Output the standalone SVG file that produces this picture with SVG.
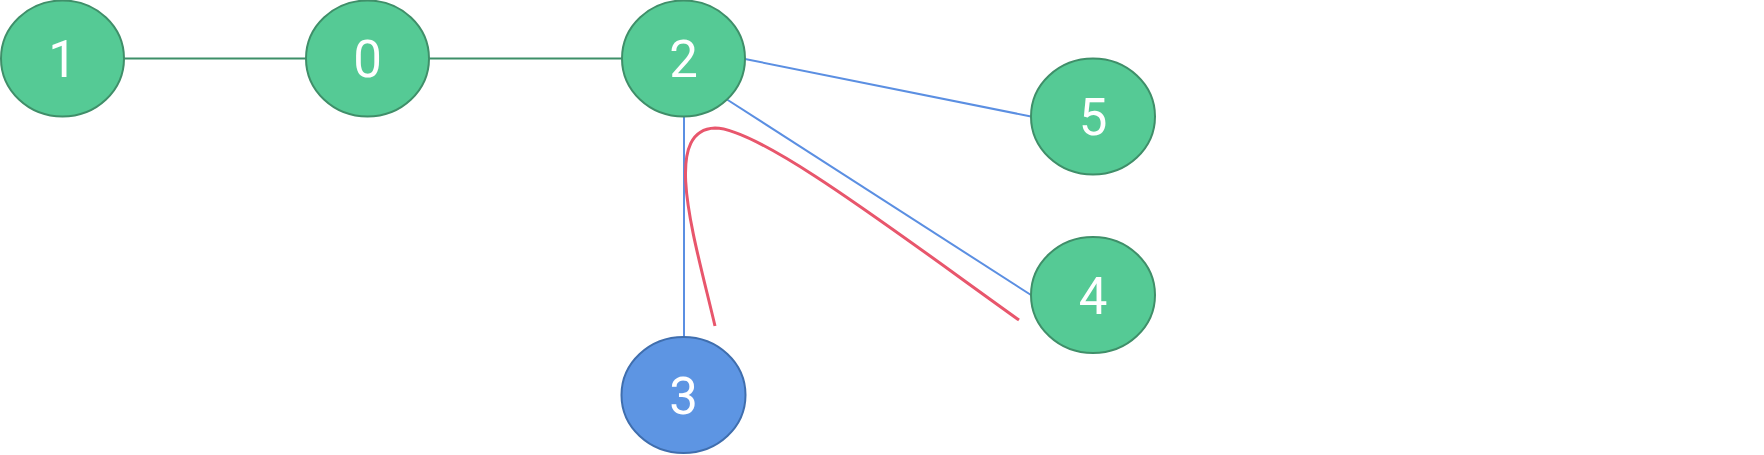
<svg xmlns="http://www.w3.org/2000/svg" width="1764" height="455" viewBox="0 0 1764 455">
<style>
.node ellipse{fill:#55ca95;stroke:#3f8f69;stroke-width:2}
.node.blue ellipse{fill:#5d95e3;stroke:#3f6eae}
.node text{fill:#ffffff;font-family:Roboto,"Liberation Sans",Arial,sans-serif;font-size:51px;text-anchor:middle}
.g{stroke:#3d8f68;stroke-width:2;fill:none}
.b{stroke:#5b8fe2;stroke-width:2;fill:none}
.r{stroke:#e8566c;stroke-width:3;fill:none}
</style>
<rect width="1764" height="455" fill="#ffffff"/>
<g id="connectors">
<line class="g" x1="124" y1="58.5" x2="306" y2="58.5"/>
<line class="g" x1="429" y1="58.5" x2="622" y2="58.5"/>
<line class="b" x1="745" y1="59" x2="1031" y2="116.5"/>
<line class="b" x1="727" y1="99.5" x2="1031" y2="295"/>
<line class="b" x1="684" y1="116" x2="684" y2="337.5"/>
<path class="r" d="M715,326 C695,240 660,130 715,128 C760,128 900,235 1019,320"/>
</g>
<g id="node1" class="node"><ellipse cx="62.5" cy="58.5" rx="61.5" ry="58"/><text x="62.5" y="77">1</text></g>
<g id="node0" class="node"><ellipse cx="367.5" cy="58.5" rx="61.5" ry="58"/><text x="367.5" y="77">0</text></g>
<g id="node2" class="node"><ellipse cx="683.5" cy="58.5" rx="61.5" ry="58"/><text x="683.5" y="77">2</text></g>
<g id="node5" class="node"><ellipse cx="1093" cy="116.5" rx="62" ry="58"/><text x="1093" y="135">5</text></g>
<g id="node4" class="node"><ellipse cx="1093" cy="295" rx="62" ry="58"/><text x="1093" y="313.5">4</text></g>
<g id="node3" class="node blue"><ellipse cx="683.5" cy="395" rx="62" ry="58"/><text x="683.5" y="413.5">3</text></g>
</svg>
